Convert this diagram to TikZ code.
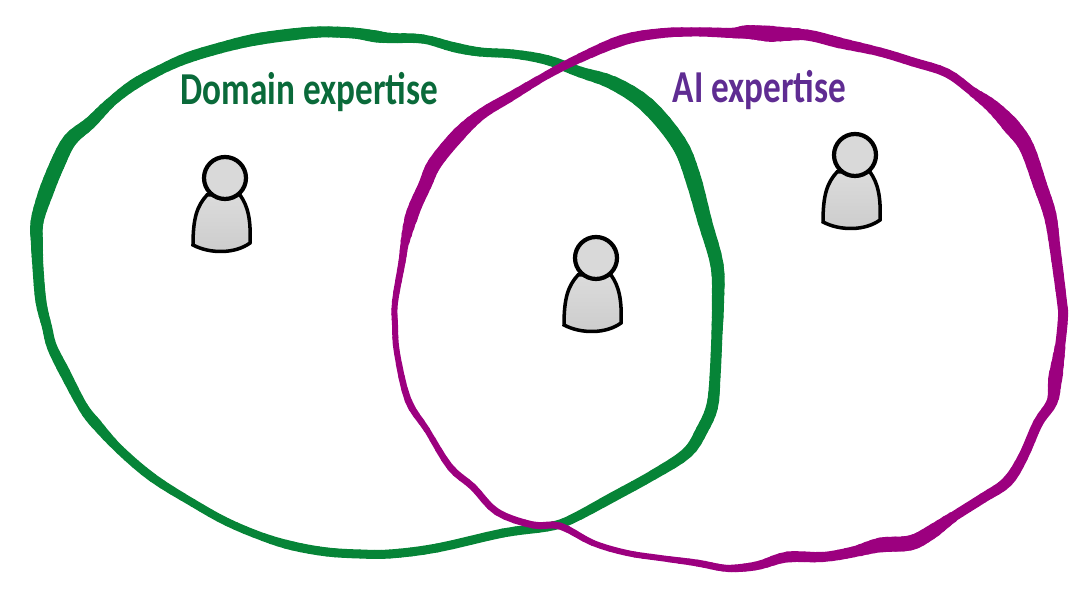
\documentclass[tikz,border=0pt]{standalone}
\usepackage{fontspec}
\setmainfont{Carlito}
\usetikzlibrary{calc}
\definecolor{ringgreen}{HTML}{068437}
\definecolor{ringmagenta}{HTML}{9C007F}
\definecolor{textgreen}{HTML}{0A6A3A}
\definecolor{textpurple}{HTML}{5F2C92}
\tikzset{
  ringline/.style={line join=round, line cap=round},
  ringlabel/.style={font=\bfseries\fontsize{13}{13}\selectfont, inner sep=0pt, xscale=0.77},
  pawn/.pic={
    \draw [black, top color=black!14, bottom color=black!20, line width=1pt] (-32,67) .. controls (-32,40) and (-28,28) .. (-18,17)
      -- (15,17) .. controls (23,28) and (26,42) .. (25,65)
      .. controls (10,76) and (-15,76) .. (-32,67) -- cycle;
    \draw [black, fill=black!15, line width=1.2pt] (0,0) circle (21);
  }
}
% closed ring of x/y/width points, widths are in pixels of the reference
\newcommand{\handring}[3]{
  \foreach \ptx/\pty/\ptw [count=\n] in {#3} {
    \coordinate (#1-\n) at (\ptx,\pty);
    \expandafter\xdef\csname #1w\n\endcsname{\ptw}
    \xdef\ringcount{\n}
  }
  \foreach \n in {1,...,\ringcount} {
    \pgfmathtruncatemacro\na{mod(\n+\ringcount-2,\ringcount)+1}
    \pgfmathtruncatemacro\nc{mod(\n,\ringcount)+1}
    \pgfmathtruncatemacro\nd{mod(\n+1,\ringcount)+1}
    \coordinate (prev) at (#1-\n);
    \foreach \t in {0.25,0.5,0.75,1} {
      \pgfmathsetmacro\ka{0.5*(-\t*\t*\t+2*\t*\t-\t)}
      \pgfmathsetmacro\kb{0.5*(3*\t*\t*\t-5*\t*\t+2)}
      \pgfmathsetmacro\kc{0.5*(-3*\t*\t*\t+4*\t*\t+\t)}
      \pgfmathsetmacro\kd{0.5*(\t*\t*\t-\t*\t)}
      \pgfmathsetmacro\lw{((1-\t)*\csname #1w\n\endcsname+\t*\csname #1w\nc\endcsname)*0.2845}
      \coordinate (next) at ($\ka*(#1-\na)+\kb*(#1-\n)+\kc*(#1-\nc)+\kd*(#1-\nd)$);
      \draw [ringline, #2, line width=\lw pt] (prev) -- (next);
      \coordinate (prev) at (next);
    }
  }
}
\begin{document}
\begin{tikzpicture}[x=0.01cm, y=-0.01cm]
  \useasboundingbox (0,0) rectangle (1082,589);

  % green ring
  \handring{dom}{ringgreen}{373/36/12, 353/33/11, 320/32/11, 287/35/12, 253/40/12, 220/48/11, 187/58/11, 160/70/10, 133/85/11, 110/103/10, 90/123/12, 70/140/14, 57/165/15, 45/195/15, 37/222/13, 37/245/12, 38/268/11, 41/302/11, 47/327/10, 52/347/10, 65/373/11, 83/407/10, 97/425/11, 120/450/9, 153/478/9, 193/503/8, 227/522/8, 263/537/8, 293/546/9, 327/552/9, 360/554/9, 390/554/9, 437/548/9, 503/533/9, 547/527/9, 570/520/9, 613/497/10, 653/475/10, 687/453/11, 702/430/12, 712/407/12, 715/377/11, 717/333/11, 718/302/12, 717/265/13, 705/222/14, 692/175/16, 678/142/16, 647/105/16, 613/83/14, 580/72/11, 547/60/10, 513/54/9, 480/52/9, 453/47/10, 423/39/9, 390/38/10}

  % magenta ring
  \handring{ai}{ringmagenta}{395/302/6, 402/262/7, 405/242/8, 413/212/13, 425/185/13, 435/163/14, 460/133/14, 483/113/11, 510/97/10, 547/75/8, 580/58/9, 623/40/11, 663/33/10, 700/32/9, 733/33/10, 747/32/13, 773/34/16, 807/35/11, 840/43/11, 880/52/9, 913/62/9, 947/73/9, 973/92/9, 993/107/13, 1013/128/17, 1027/148/15, 1040/185/14, 1050/215/13, 1055/248/11, 1062/302/10, 1063/317/10, 1060/347/10, 1055/380/14, 1052/402/11, 1038/423/10, 1023/457/10, 1007/482/11, 983/498/10, 953/517/10, 930/533/14, 910/543/15, 880/545/15, 853/552/11, 823/557/10, 787/557/11, 760/565/9, 740/568/8, 723/568/7, 697/563/7, 660/558/6, 627/553/6, 593/543/6, 560/526/7, 533/525/7, 497/512/7, 473/487/7, 450/467/7, 427/430/6, 408/400/7, 397/353/6, 395/325/6}

  % labels
  \node [ringlabel, textgreen] (domainlabel) at (309.5,92) {Domain expertise};
  \node [ringlabel, textpurple] (ailabel) at (759.5,90) {AI expertise};

  % people
  \pic at (225,178) {pawn};
  \pic at (596,258) {pawn};
  \pic at (855,155) {pawn};
\end{tikzpicture}
\end{document}
